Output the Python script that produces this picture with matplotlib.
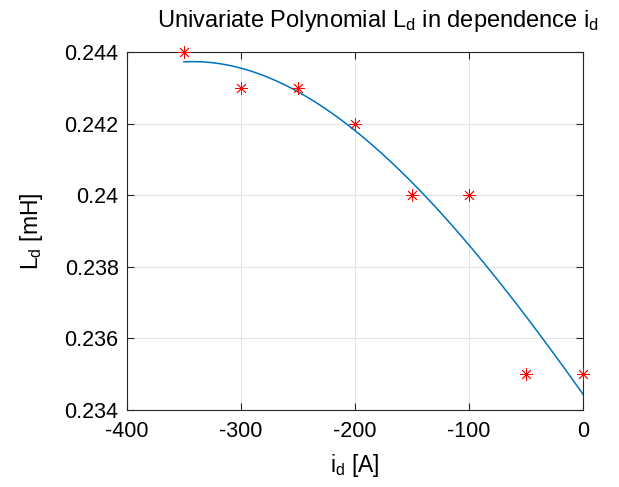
import matplotlib
matplotlib.use('Agg')
import matplotlib.pyplot as plt
import numpy as np

# measured points
i_d = np.array([-350, -300, -250, -200, -150, -100, -50, 0])
L_d = np.array([0.244, 0.243, 0.243, 0.242, 0.240, 0.240, 0.235, 0.235])
poly_degree = 3

x_ticks = [-400, -300, -200, -100, 0]
y_ticks = [0.234, 0.236, 0.238, 0.240, 0.242, 0.244]

plt.rcParams['font.family'] = ['Liberation Sans', 'DejaVu Sans']
plt.rcParams['mathtext.default'] = 'regular'
plt.rcParams['axes.unicode_minus'] = False

# polynomial fit of the measurements
coef = np.polyfit(i_d, L_d, poly_degree)
x_fit = np.linspace(i_d.min(), i_d.max(), 200)
y_fit = np.polyval(coef, x_fit)

fig = plt.figure(figsize=(6.19, 4.87), dpi=100)
ax = fig.add_axes([0.205, 0.158, 0.737, 0.735])

ax.plot(i_d, L_d, linestyle='none', marker=(8, 2, 0), color='#ff0000',
        markersize=9, markeredgewidth=0.6, clip_on=False, zorder=3)
ax.plot(x_fit, y_fit, '-', color=(0, 0.447, 0.741), linewidth=1.1)

ax.set_xlim(-400, 0)
ax.set_ylim(0.234, 0.244)
ax.set_xticks(x_ticks)
ax.set_yticks(y_ticks)
ax.set_yticklabels(['%g' % v for v in y_ticks])
ax.grid(True, color='#e3e3e3', linewidth=0.8)
ax.set_axisbelow(True)

ax.tick_params(direction='in', top=True, right=True, labelsize=15.5,
               length=5, width=0.8, color='#262626')
ax.tick_params(axis='x', pad=8)
ax.tick_params(axis='y', pad=6)
for s in ax.spines.values():
    s.set_color('#262626')
    s.set_linewidth(0.8)

ax.set_xlabel('i$_d$ [A]', fontsize=16.5, labelpad=7)
ax.set_ylabel('L$_d$ [mH]', fontsize=16.5, labelpad=14)
ax.set_title('Univariate Polynomial L$_d$ in dependence i$_d$', fontsize=17, pad=18)
ax.title.set_x(0.55)

plt.savefig('out.png', dpi=100)
